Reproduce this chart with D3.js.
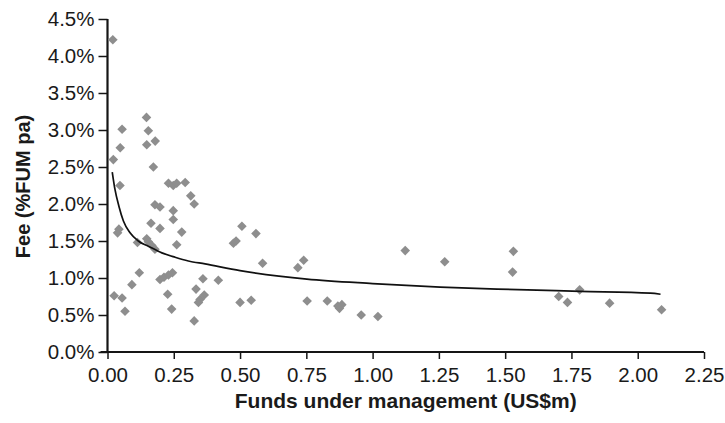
<!DOCTYPE html>
<html>
<head>
<meta charset="utf-8">
<script src="https://cdn.jsdelivr.net/npm/d3@7"></script>
<style>
  html, body { margin: 0; padding: 0; background: #fff; }
  svg { display: block; }
  text { font-family: "Liberation Sans", Arial, Helvetica, sans-serif; fill: #1a1a1a; }
</style>
</head>
<body>
<svg id="chart" width="725" height="423"></svg>
<script>
// Funds under management (US$m) for each fund
const fum = [
  0.020, 0.055, 0.048, 0.022, 0.147, 0.154, 0.148, 0.180, 0.173, 0.047,
  0.230, 0.248, 0.261, 0.293, 0.314, 0.327, 0.179, 0.198, 0.248, 0.248,
  0.164, 0.198, 0.280, 0.043, 0.038, 0.113, 0.148, 0.154, 0.167, 0.179,
  0.261, 0.120, 0.198, 0.213, 0.230, 0.245, 0.227, 0.242, 0.360, 0.418,
  0.334, 0.349, 0.365, 0.343, 0.327, 0.092, 0.025, 0.055, 0.066, 0.475,
  0.485, 0.507, 0.560, 0.585, 0.500, 0.542, 0.718, 0.740, 0.753, 0.829,
  0.869, 0.884, 0.875, 0.957, 1.020, 1.123, 1.272, 1.531, 1.528, 1.702,
  1.735, 1.781, 1.894, 2.090
];
// Annual fee (% of FUM) for each fund
const fee = [
  4.22, 3.01, 2.76, 2.60, 3.17, 2.99, 2.80, 2.85, 2.50, 2.25,
  2.28, 2.25, 2.28, 2.29, 2.11, 2.00, 1.99, 1.96, 1.91, 1.79,
  1.74, 1.67, 1.62, 1.66, 1.61, 1.48, 1.53, 1.49, 1.44, 1.39,
  1.45, 1.07, 0.98, 1.01, 1.04, 1.07, 0.78, 0.58, 0.99, 0.97,
  0.85, 0.71, 0.77, 0.67, 0.42, 0.91, 0.76, 0.73, 0.55, 1.47,
  1.50, 1.70, 1.60, 1.20, 0.67, 0.70, 1.14, 1.24, 0.69, 0.69,
  0.62, 0.64, 0.59, 0.50, 0.48, 1.37, 1.22, 1.36, 1.08, 0.75,
  0.67, 0.84, 0.66, 0.57
];
// Trend line (power fit) sampled along FUM
const trendFum = [0.018, 0.028, 0.043, 0.060, 0.085, 0.116, 0.154, 0.205, 0.255, 0.305,
                  0.368, 0.500, 0.752, 1.000, 1.255, 1.470, 1.784, 2.048, 2.086];
const trendFee = [2.43, 2.20, 1.97, 1.77, 1.61, 1.50, 1.43, 1.34, 1.28, 1.23,
                  1.19, 1.10, 0.985, 0.925, 0.877, 0.85, 0.82, 0.795, 0.78];
// Tick values
const xTicks = [0, 0.25, 0.5, 0.75, 1.0, 1.25, 1.5, 1.75, 2.0, 2.25];
const yTicks = [0, 0.5, 1.0, 1.5, 2.0, 2.5, 3.0, 3.5, 4.0, 4.5];

const svg = d3.select("#chart");
const plotLeft = 107.5, plotRight = 704, plotTop = 19, plotBottom = 352;

const x = d3.scaleLinear().domain([0, 2.25]).range([plotLeft, plotRight]);
const y = d3.scaleLinear().domain([0, 4.5]).range([plotBottom, plotTop]);

// Axes
const yAxis = d3.axisLeft(y).tickValues(yTicks).tickSize(9).tickPadding(4)
  .tickFormat(d => d.toFixed(1) + "%");
const xAxis = d3.axisBottom(x).tickValues(xTicks).tickSize(7).tickPadding(8)
  .tickFormat(d => d.toFixed(2));

const gy = svg.append("g").attr("transform", `translate(${plotLeft},0)`).call(yAxis);
const gx = svg.append("g").attr("transform", `translate(0,${plotBottom})`).call(xAxis);

[gy, gx].forEach(g => {
  g.select(".domain").attr("stroke", "#151515").attr("stroke-width", 2.2);
  g.selectAll(".tick line").attr("stroke", "#151515").attr("stroke-width", 1.5);
  g.selectAll(".tick text")
    .attr("font-size", 20.5)
    .attr("font-family", "Liberation Sans, Arial, sans-serif")
    .attr("fill", "#222");
});
gy.select(".domain").attr("d", `M0,${plotTop}V${plotBottom}`);
gx.select(".domain").attr("d", `M${plotLeft - 7},0H${plotRight}`);
gy.selectAll(".tick line").attr("x1", 0);

// Scatter points (diamonds)
const pts = fum.map((v, i) => ({ f: v, p: fee[i] }));
const diamond = d3.symbol().type(d3.symbolSquare).size(46);
svg.append("g").selectAll("path")
  .data(pts)
  .join("path")
  .attr("d", diamond)
  .attr("transform", d => `translate(${x(d.f)},${y(d.p)}) rotate(45)`)
  .attr("fill", "#8e8e8e");

// Trend line
const trend = trendFum.map((v, i) => ({ f: v, p: trendFee[i] }));
svg.append("path")
  .datum(trend)
  .attr("fill", "none")
  .attr("stroke", "#111")
  .attr("stroke-width", 1.7)
  .attr("d", d3.line().x(d => x(d.f)).y(d => y(d.p)).curve(d3.curveMonotoneX));

// Axis titles
svg.append("text")
  .attr("x", (plotLeft + plotRight) / 2)
  .attr("y", 408)
  .attr("text-anchor", "middle")
  .attr("font-size", 21)
  .attr("font-weight", "bold")
  .attr("fill", "#222")
  .text("Funds under management (US$m)");

svg.append("text")
  .attr("transform", `translate(29.5,186.5) rotate(-90)`)
  .attr("text-anchor", "middle")
  .attr("font-size", 20)
  .attr("font-weight", "bold")
  .attr("fill", "#222")
  .text("Fee (%FUM pa)");
</script>
</body>
</html>
